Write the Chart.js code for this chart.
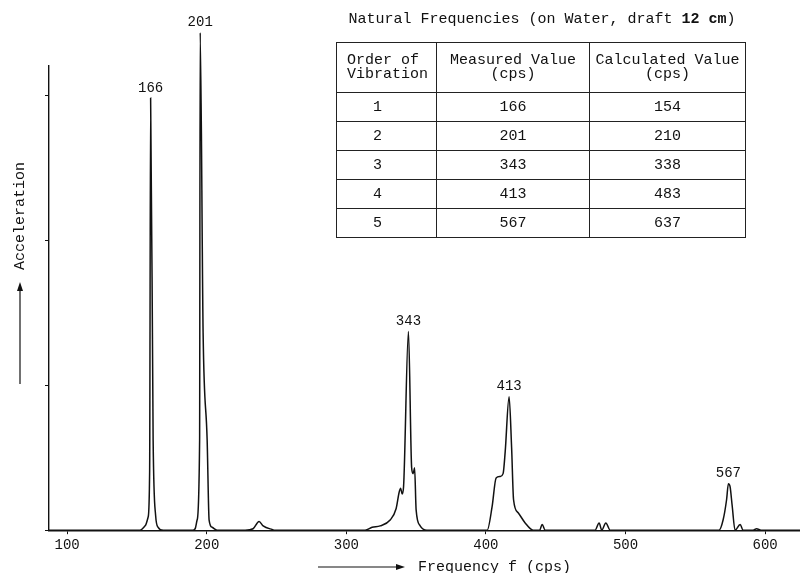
<!DOCTYPE html>
<html>
<head>
<meta charset="utf-8">
<script src="https://cdn.jsdelivr.net/npm/chart.js@4.4.1/dist/chart.umd.min.js"></script>
<style>
  body { margin: 0; background: #fff; }
  #wrap { position: relative; width: 800px; height: 573px; }
  #title { position: absolute; left: 300px; width: 484px; top: 11px; text-align: center;
    font: 15px "Liberation Mono", monospace; color: #111; white-space: pre; }
  #freqTable { position: absolute; left: 336px; top: 42px; border-collapse: collapse;
    font: 15px "Liberation Mono", monospace; color: #111; }
  #freqTable td { border: 1.5px solid #222; padding: 0; text-align: center; height: 28px; }
  #freqTable tr.head td { height: 49px; line-height: 14px; }
  #freqTable td.c0 { width: 100px; padding-right: 18px; box-sizing: border-box; }
  #freqTable tr.head td.c0 { text-align: left; padding: 0 0 0 10px; }
  #freqTable td.c1 { width: 152px; }
  #freqTable td.c2 { width: 155px; }
</style>
</head>
<body>
<div id="wrap">
  <canvas id="myChart" width="800" height="573"></canvas>
  <div id="title">Natural Frequencies (on Water, draft <b>12 cm</b>)</div>
  <table id="freqTable"></table>
</div>
<script>
// spectrum trace (frequency in cps, acceleration in tick units)
var freq = [87, 152.3, 155.9, 158.0, 159.1, 159.8, 161.6, 163.4, 165.2, 168.8,
  190.3, 191.7, 193.1, 194.9, 195.3, 197.4, 200.3, 201.7, 203.9, 207.4,
  227.5, 233.2, 237.5, 240.4, 246.8, 249,
  313.5, 318.5, 324.2, 331.4, 335.7, 337.8, 338.9, 340.0, 341.0, 344.5, 346.8, 347.9, 348.9, 350.0, 352.9, 357.7,
  400.9, 404.4, 407.3, 410.2, 412.3, 413.8, 416.6, 418.4, 419.8, 423.1, 428.1, 433.8, 438.5, 440.3, 442.4,
  478.2, 481.1, 483.0, 485.9, 489.0,
  567.0, 569.9, 572.4, 573.7, 574.9, 576.4, 578.5, 582.1, 584.2, 591.4, 593.9, 597.1, 625];
var accel = [0, 0, 0.03, 0.09, 0.41, 2.98, 0.62, 0.10, 0.02, 0,
  0, 0.01, 0.07, 0.62, 3.43, 1.36, 0.62, 0.07, 0.02, 0,
  0, 0.01, 0.06, 0.03, 0.005, 0,
  0, 0.02, 0.03, 0.07, 0.15, 0.26, 0.29, 0.25, 0.30, 1.37, 0.43, 0.39, 0.43, 0.14, 0.03, 0,
  0, 0.16, 0.36, 0.37, 0.39, 0.54, 0.92, 0.57, 0.21, 0.12, 0.05, 0, 0, 0.04, 0,
  0, 0.05, 0, 0.05, 0,
  0, 0.07, 0.21, 0.32, 0.30, 0.17, 0, 0.04, 0, 0, 0.01, 0, 0];

// peaks that carry a label
var peakFreq = [159.8, 195.3, 344.5, 416.6, 573.7];

// table of natural frequencies
var orders = ['1', '2', '3', '4', '5'];
var measured = ['166', '201', '343', '413', '567'];
var calculated = ['154', '210', '338', '483', '637'];

var xTicks = [100, 200, 300, 400, 500, 600];

// build the table
var tbl = document.getElementById('freqTable');
var html = '<tr class="head"><td class="c0">Order of<br>Vibration</td>' +
  '<td class="c1">Measured Value<br>(cps)</td><td class="c2">Calculated Value<br>(cps)</td></tr>';
for (var i = 0; i < orders.length; i++) {
  html += '<tr><td class="c0">' + orders[i] + '</td><td class="c1">' + measured[i] +
    '</td><td class="c2">' + calculated[i] + '</td></tr>';
}
tbl.innerHTML = html;

Chart.defaults.font.family = '"Liberation Mono", monospace';
Chart.defaults.color = '#111';

var points = freq.map(function (f, i) { return { x: f, y: accel[i] }; });

// peak labels + axis titles with arrows
var annotate = {
  id: 'annotate',
  afterDraw: function (chart) {
    var c = chart.ctx, xs = chart.scales.x, ys = chart.scales.y;
    c.save();
    c.fillStyle = '#111';
    c.strokeStyle = '#111';
    c.font = '14px "Liberation Mono", monospace';
    c.textAlign = 'center';
    c.textBaseline = 'bottom';
    peakFreq.forEach(function (f, i) {
      var idx = freq.indexOf(f);
      c.fillText(measured[i], xs.getPixelForValue(freq[idx]), ys.getPixelForValue(accel[idx]) - 3);
    });

    c.font = '15px "Liberation Mono", monospace';
    c.lineWidth = 1.2;
    // x title
    c.beginPath(); c.moveTo(318, 567); c.lineTo(398, 567); c.stroke();
    c.beginPath(); c.moveTo(405, 567); c.lineTo(396, 564); c.lineTo(396, 570); c.closePath(); c.fill();
    c.textAlign = 'left'; c.textBaseline = 'middle';
    c.fillText('Frequency f (cps)', 418, 567);
    // y title
    c.beginPath(); c.moveTo(20, 384); c.lineTo(20, 290); c.stroke();
    c.beginPath(); c.moveTo(20, 282); c.lineTo(17, 291); c.lineTo(23, 291); c.closePath(); c.fill();
    c.translate(20, 216);
    c.rotate(-Math.PI / 2);
    c.textAlign = 'center';
    c.fillText('Acceleration', 0, 0);
    c.restore();
  }
};

var ctx = document.getElementById('myChart').getContext('2d');
var chart = new Chart(ctx, {
  type: 'line',
  data: {
    datasets: [{
      data: points,
      borderColor: '#111',
      borderWidth: 1.5,
      pointRadius: 0,
      cubicInterpolationMode: 'monotone',
      clip: false
    }]
  },
  options: {
    responsive: false,
    animation: false,
    layout: { padding: { left: 45, top: 66, right: 0, bottom: 16 } },
    plugins: { legend: { display: false }, tooltip: { enabled: false } },
    scales: {
      x: {
        type: 'linear',
        min: 87,
        max: 625,
        afterBuildTicks: function (s) { s.ticks = xTicks.map(function (v) { return { value: v }; }); },
        ticks: { font: { size: 14 }, padding: 3, maxRotation: 0 },
        grid: { color: 'transparent', tickColor: '#111', tickLength: 4 },
        border: { color: '#111', width: 1.4 }
      },
      y: {
        min: 0,
        max: 3.2,
        ticks: { display: false, stepSize: 1, includeBounds: false },
        grid: { color: 'transparent', tickColor: '#111', tickLength: 4 },
        border: { color: '#111', width: 1.4 }
      }
    }
  },
  plugins: [annotate]
});
</script>
</body>
</html>
